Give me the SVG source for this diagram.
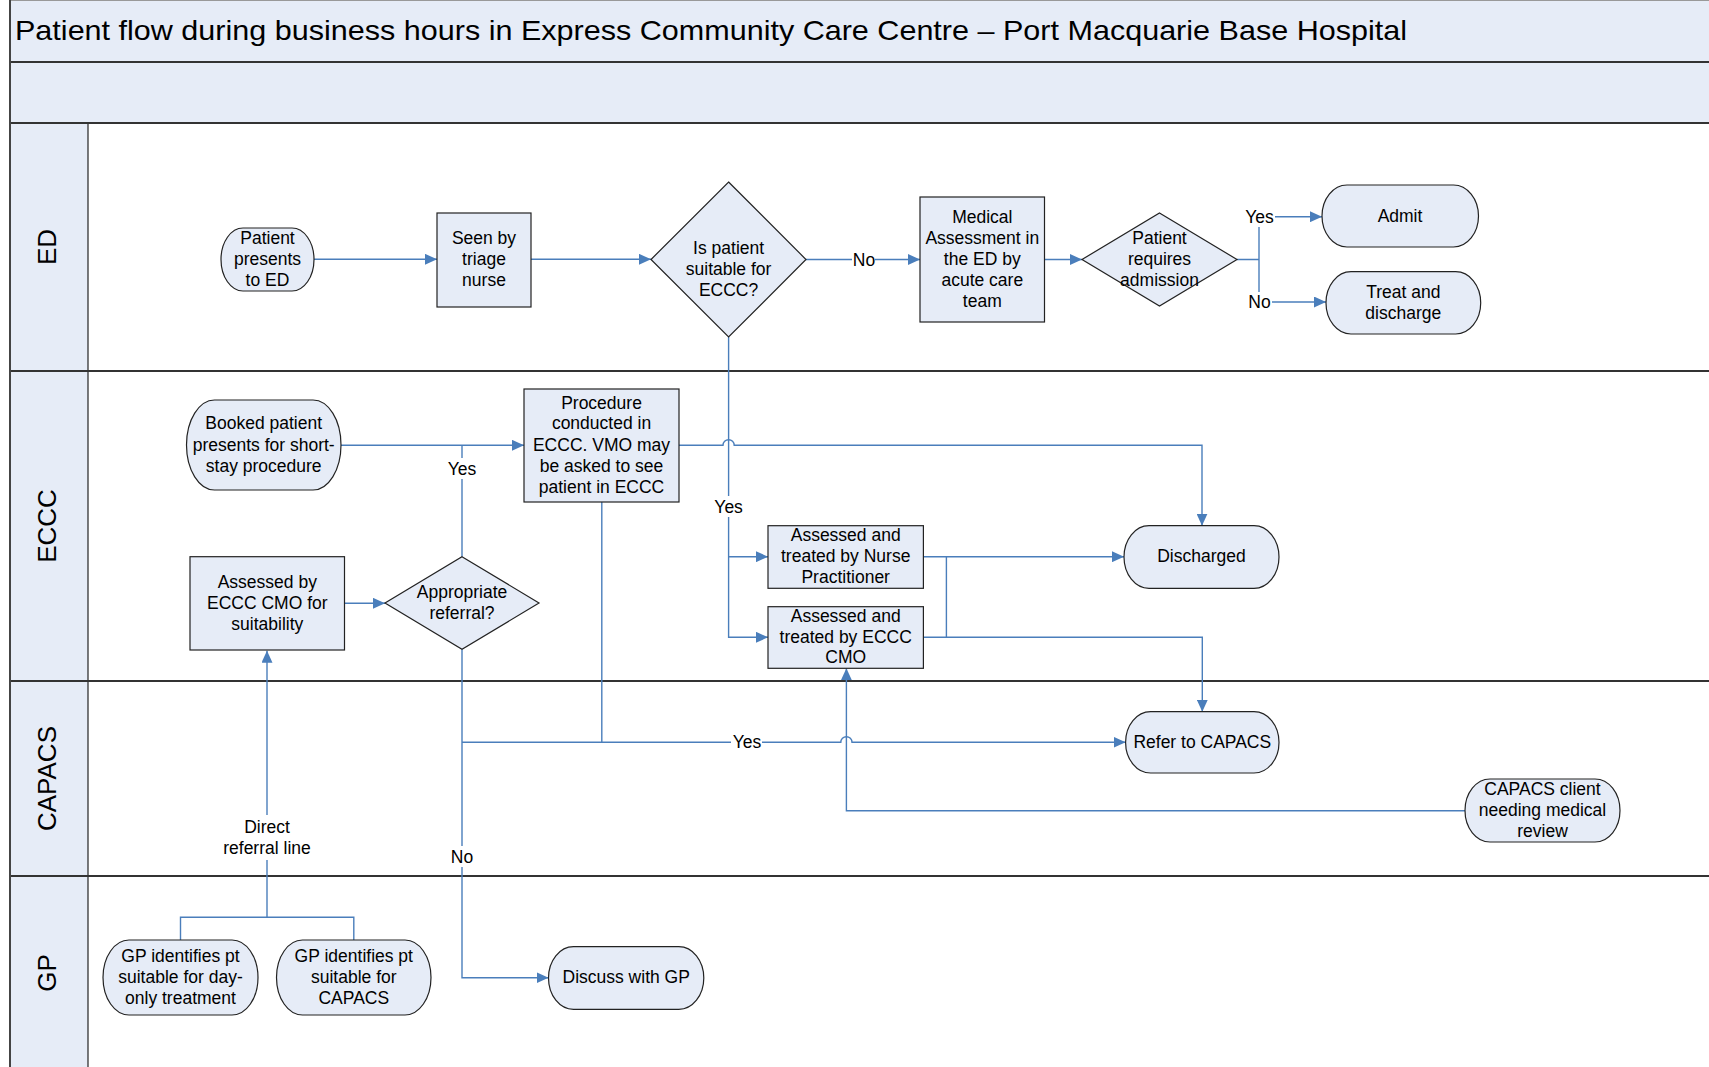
<svg xmlns="http://www.w3.org/2000/svg" width="1709" height="1067" viewBox="0 0 1709 1067">
<style>
.band{fill:#e6ecf7}
.div{stroke:#333;stroke-width:2;fill:none}
.box{fill:#e6ecf7;stroke:#222;stroke-width:1.2}
.t{font-family:"Liberation Sans",Arial,sans-serif;font-size:17.5px;fill:#000;text-anchor:middle}
.lane{font-family:"Liberation Sans",Arial,sans-serif;font-size:26px;fill:#000;text-anchor:middle}
.title{font-family:"Liberation Sans",Arial,sans-serif;font-size:28px;fill:#000}
.conn{fill:none;stroke:#4a7ebb;stroke-width:1.4}
.arr{marker-end:url(#ah)}
.lbg{fill:#fff}
</style>
<defs>
<marker id="ah" markerUnits="userSpaceOnUse" markerWidth="12" markerHeight="11" refX="12" refY="5.5" orient="auto">
<path d="M0,0 L12,5.5 L0,11 z" fill="#4a7ebb"/>
</marker>
</defs>
<rect x="0" y="0" width="1709" height="1067" fill="#fff"/>
<g id="pool">
<rect class="band" x="10" y="0" width="1699" height="123"/>
<rect class="band" x="10" y="123" width="78" height="944"/>
<line x1="10" y1="0.5" x2="1709" y2="0.5" stroke="#999" stroke-width="1"/>
<path class="div" d="M10,62 H1709 M10,123 H1709 M10,371 H1709 M10,681 H1709 M10,876 H1709"/>
<line x1="10" y1="0" x2="10" y2="1067" stroke="#444" stroke-width="2"/>
<line x1="88" y1="123" x2="88" y2="1067" stroke="#333" stroke-width="1.3"/>
<text class="title" x="15" y="39.5" textLength="1392" lengthAdjust="spacingAndGlyphs">Patient flow during business hours in Express Community Care Centre – Port Macquarie Base Hospital</text>
<text class="lane" transform="translate(56,247) rotate(-90)">ED</text>
<text class="lane" transform="translate(56,526) rotate(-90)">ECCC</text>
<text class="lane" transform="translate(56,778.5) rotate(-90)">CAPACS</text>
<text class="lane" transform="translate(56,973) rotate(-90)">GP</text>
</g>
<g id="connectors">
<path class="conn arr" d="M314,259.3 H437"/>
<path class="conn arr" d="M531,259.3 H651"/>
<path class="conn arr" d="M806,259.5 H920"/>
<path class="conn arr" d="M1044.5,259.5 H1082"/>
<path class="conn" d="M1237,259.5 H1259 M1259,222 V300"/>
<path class="conn arr" d="M1275,216.7 H1322"/>
<path class="conn arr" d="M1272,302 H1326"/>
<path class="conn arr" d="M341,445.3 H524"/>
<path class="conn" d="M462,556.7 V445.3"/>
<path class="conn arr" d="M679,445.3 H723 a5.6,5.6 0 0 1 11.2,0 H1202 V525.7"/>
<path class="conn arr" d="M728.6,337 V637.3 H768"/>
<path class="conn arr" d="M728.6,556.7 H768"/>
<path class="conn arr" d="M923.4,556.7 H1124"/>
<path class="conn arr" d="M923.4,637.3 H1202.3 V711.7"/>
<path class="conn" d="M946.4,556.7 V637.3"/>
<path class="conn arr" d="M344.5,603.3 H385"/>
<path class="conn arr" d="M462,649.3 V977.7 H548.5"/>
<path class="conn arr" d="M462,742.3 H840.8 a5.6,5.6 0 0 1 11.2,0 H1125.6"/>
<path class="conn" d="M601.8,502 V742.3"/>
<path class="conn arr" d="M1465,810.7 H846.4 V668.3"/>
<path class="conn" d="M180.5,940 V917.3 H353.8 V940"/>
<path class="conn arr" d="M267,917.3 V650.7"/>
<rect class="lbg" x="852" y="249" width="23" height="21"/>
<text class="t" x="864" y="265.5">No</text>
<rect class="lbg" x="1244" y="206" width="31" height="21"/>
<text class="t" x="1259.5" y="222.7">Yes</text>
<rect class="lbg" x="1247" y="292" width="25" height="21"/>
<text class="t" x="1259.5" y="308">No</text>
<rect class="lbg" x="447" y="458" width="31" height="21"/>
<text class="t" x="462" y="474.7">Yes</text>
<rect class="lbg" x="713" y="496" width="31" height="21"/>
<text class="t" x="728.6" y="512.7">Yes</text>
<rect class="lbg" x="450" y="846" width="24" height="21"/>
<text class="t" x="462" y="862.7">No</text>
<rect class="lbg" x="731" y="732" width="31" height="21"/>
<text class="t" x="747" y="748.3">Yes</text>
<rect class="lbg" x="222" y="815" width="90" height="45"/>
<text class="t" x="267" y="832.7">Direct</text>
<text class="t" x="267" y="854">referral line</text>
</g>
<g id="n-presents-ed">
<rect class="box" x="221" y="228" width="93" height="63" rx="22" ry="31.5"/>
<text class="t" x="267.5" y="244">Patient</text>
<text class="t" x="267.5" y="265">presents</text>
<text class="t" x="267.5" y="286">to ED</text>
</g>
<g id="n-triage">
<rect class="box" x="437" y="213" width="94" height="94"/>
<text class="t" x="484" y="244">Seen by</text>
<text class="t" x="484" y="265">triage</text>
<text class="t" x="484" y="286">nurse</text>
</g>
<g id="n-suitable-eccc">
<polygon class="box" points="728.6,182 806,259.5 728.6,337 651,259.5"/>
<text class="t" x="728.6" y="254">Is patient</text>
<text class="t" x="728.6" y="275">suitable for</text>
<text class="t" x="728.6" y="296">ECCC?</text>
</g>
<g id="n-medical-assessment">
<rect class="box" x="920" y="197" width="124.5" height="125"/>
<text class="t" x="982.3" y="222.7">Medical</text>
<text class="t" x="982.3" y="243.7">Assessment in</text>
<text class="t" x="982.3" y="265.3">the ED by</text>
<text class="t" x="982.3" y="286">acute care</text>
<text class="t" x="982.3" y="307">team</text>
</g>
<g id="n-requires-admission">
<polygon class="box" points="1159.5,213 1237,259.5 1159.5,306 1082,259.5"/>
<text class="t" x="1159.5" y="243.7">Patient</text>
<text class="t" x="1159.5" y="265.3">requires</text>
<text class="t" x="1159.5" y="286">admission</text>
</g>
<g id="n-admit">
<rect class="box" x="1322" y="185" width="156.5" height="62" rx="25" ry="31"/>
<text class="t" x="1400" y="221.7">Admit</text>
</g>
<g id="n-treat-discharge">
<rect class="box" x="1326" y="271.7" width="154.7" height="62.3" rx="25" ry="31"/>
<text class="t" x="1403.3" y="297.7">Treat and</text>
<text class="t" x="1403.3" y="318.7">discharge</text>
</g>
<g id="n-booked">
<rect class="box" x="186.5" y="400" width="154.5" height="90" rx="28" ry="45"/>
<text class="t" x="263.7" y="429.3">Booked patient</text>
<text class="t" x="263.7" y="451">presents for short-</text>
<text class="t" x="263.7" y="472">stay procedure</text>
</g>
<g id="n-procedure">
<rect class="box" x="524" y="389" width="155" height="113"/>
<text class="t" x="601.5" y="408.7">Procedure</text>
<text class="t" x="601.5" y="429.3">conducted in</text>
<text class="t" x="601.5" y="451">ECCC. VMO may</text>
<text class="t" x="601.5" y="472">be asked to see</text>
<text class="t" x="601.5" y="492.7">patient in ECCC</text>
</g>
<g id="n-assessed-cmo-suitability">
<rect class="box" x="190" y="556.7" width="154.5" height="93.3"/>
<text class="t" x="267.3" y="587.7">Assessed by</text>
<text class="t" x="267.3" y="608.7">ECCC CMO for</text>
<text class="t" x="267.3" y="630">suitability</text>
</g>
<g id="n-appropriate-referral">
<polygon class="box" points="462,556.7 539,603 462,649.3 385,603"/>
<text class="t" x="462" y="598.3">Appropriate</text>
<text class="t" x="462" y="619.3">referral?</text>
</g>
<g id="n-nurse-practitioner">
<rect class="box" x="768" y="525.7" width="155.4" height="62.6"/>
<text class="t" x="845.7" y="541">Assessed and</text>
<text class="t" x="845.7" y="562">treated by Nurse</text>
<text class="t" x="845.7" y="582.6">Practitioner</text>
</g>
<g id="n-eccc-cmo">
<rect class="box" x="768" y="606.7" width="155.4" height="61.6"/>
<text class="t" x="845.7" y="622">Assessed and</text>
<text class="t" x="845.7" y="642.7">treated by ECCC</text>
<text class="t" x="845.7" y="662.7">CMO</text>
</g>
<g id="n-discharged">
<rect class="box" x="1124" y="525.7" width="155" height="62.6" rx="25" ry="31.3"/>
<text class="t" x="1201.5" y="562">Discharged</text>
</g>
<g id="n-refer-capacs">
<rect class="box" x="1125.6" y="711.7" width="153.4" height="61.3" rx="25" ry="30.6"/>
<text class="t" x="1202.3" y="748.3">Refer to CAPACS</text>
</g>
<g id="n-capacs-client">
<rect class="box" x="1465" y="779" width="155" height="63" rx="25" ry="31.5"/>
<text class="t" x="1542.5" y="795.3">CAPACS client</text>
<text class="t" x="1542.5" y="816">needing medical</text>
<text class="t" x="1542.5" y="837">review</text>
</g>
<g id="n-gp-day-only">
<rect class="box" x="103" y="940" width="155" height="75" rx="26" ry="37.5"/>
<text class="t" x="180.5" y="962">GP identifies pt</text>
<text class="t" x="180.5" y="982.7">suitable for day-</text>
<text class="t" x="180.5" y="1004.3">only treatment</text>
</g>
<g id="n-gp-capacs">
<rect class="box" x="276.5" y="940" width="154.5" height="75" rx="26" ry="37.5"/>
<text class="t" x="353.8" y="962">GP identifies pt</text>
<text class="t" x="353.8" y="982.7">suitable for</text>
<text class="t" x="353.8" y="1004.3">CAPACS</text>
</g>
<g id="n-discuss-gp">
<rect class="box" x="548.5" y="946.7" width="155.3" height="62.6" rx="25" ry="31.3"/>
<text class="t" x="626.2" y="982.7">Discuss with GP</text>
</g>
</svg>
